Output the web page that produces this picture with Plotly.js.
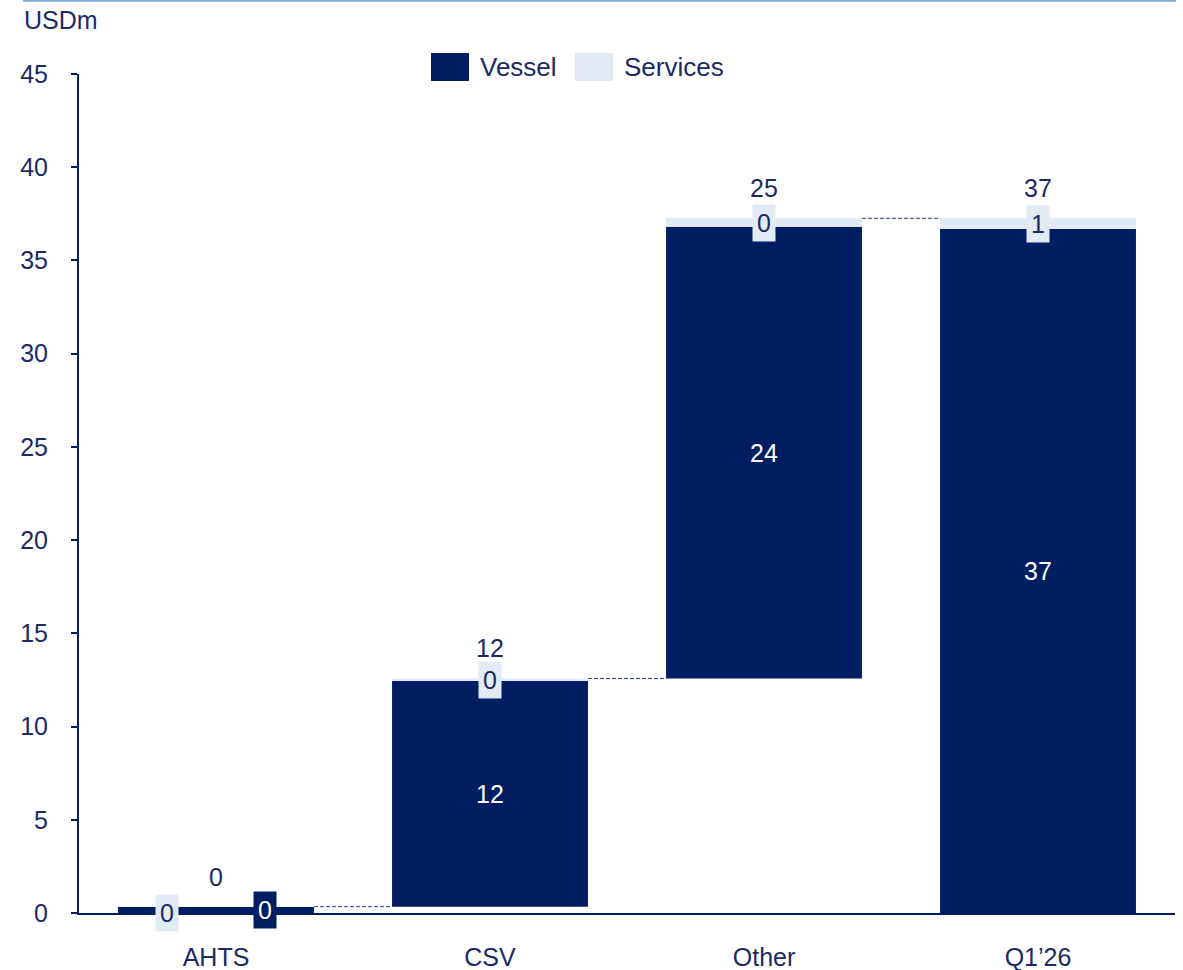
<!DOCTYPE html>
<html>
<head>
<meta charset="utf-8">
<script src="https://cdn.plot.ly/plotly-3.0.1.min.js"></script>
<style>html,body{margin:0;padding:0;background:#fff;}#chart{width:1183px;height:970px;}</style>
</head>
<body>
<div id="chart"></div>
<script>
// ---- data ----
const categories = ['AHTS', 'CSV', 'Other', 'Q1\u201926'];
const vessel = [0.32, 12.1, 24.23, 36.69];
const services = [0.02, 0.14, 0.45, 0.57];
const isTotal = [false, false, false, true];
const vesselLabels = ['0', '12', '24', '37'];
const servicesLabels = ['0', '0', '0', '1'];
const totalLabels = ['0', '12', '25', '37'];
const yTicks = [0, 5, 10, 15, 20, 25, 30, 35, 40, 45];

// ---- style ----
const NAVY = '#001e61';
const LIGHT = '#e2eaf3';
const TXT = '#1b2a66';
const FONT = 'Liberation Sans, Arial, sans-serif';
const FS = 25;
const BARW = 0.715;

// waterfall bases
const vBase = [], sBase = [], tops = [];
let cum = 0;
for (let i = 0; i < categories.length; i++) {
  const b = isTotal[i] ? 0 : cum;
  vBase.push(b);
  sBase.push(b + vessel[i]);
  tops.push(b + vessel[i] + services[i]);
  if (!isTotal[i]) cum = b + vessel[i] + services[i];
}

const traces = [
  {type: 'bar', x: categories, y: vessel, base: vBase, width: BARW,
   marker: {color: NAVY, line: {width: 0}}, name: 'Vessel', hoverinfo: 'none'},
  {type: 'bar', x: categories, y: services, base: sBase, width: BARW,
   marker: {color: LIGHT, line: {width: 0}}, name: 'Services', hoverinfo: 'none'}
];

const PXU = 839 / 45; // approx px per unit for small-bar detection
const annotations = [];
const shapes = [];
for (let i = 0; i < categories.length; i++) {
  const small = (vessel[i] + services[i]) * PXU < 20;
  // vessel label
  annotations.push({
    x: categories[i], y: vBase[i] + vessel[i] / 2, xref: 'x', yref: 'y',
    text: vesselLabels[i], showarrow: false,
    font: {family: FONT, size: FS, color: '#ffffff'},
    bgcolor: small ? NAVY : 'rgba(0,0,0,0)', borderpad: 4,
    xshift: small ? 49 : 0
  });
  // services label
  annotations.push({
    x: categories[i], y: sBase[i] + services[i] / 2, xref: 'x', yref: 'y',
    text: servicesLabels[i], showarrow: false,
    font: {family: FONT, size: FS, color: TXT},
    bgcolor: LIGHT, borderpad: 4,
    xshift: small ? -49 : 0, yshift: small ? -6 : 0
  });
  // total label
  annotations.push({
    x: categories[i], y: tops[i], xref: 'x', yref: 'y',
    text: totalLabels[i], showarrow: false, yanchor: 'middle',
    font: {family: FONT, size: FS, color: TXT}, yshift: 30
  });
  // connector
  if (i < categories.length - 1) {
    shapes.push({
      type: 'line', xref: 'x', yref: 'y',
      x0: i + BARW / 2, x1: i + 1 - BARW / 2, y0: tops[i], y1: tops[i],
      line: {color: '#2b3b7c', width: 1, dash: '4px,2px'}
    });
  }
}

// paper-coordinate helpers (plot area 79..1175 x, 74..913 y)
const px = v => (v - 79) / 1096;
const py = v => (913 - v) / 839;

// top rule
shapes.push({type: 'line', xref: 'paper', yref: 'paper', x0: px(23), x1: px(1176),
  y0: py(0.8), y1: py(0.8), line: {color: '#7eaad4', width: 2}});
// legend swatches
shapes.push({type: 'rect', xref: 'paper', yref: 'paper', x0: px(431), x1: px(469),
  y0: py(81), y1: py(53), fillcolor: NAVY, line: {width: 0}});
shapes.push({type: 'rect', xref: 'paper', yref: 'paper', x0: px(575), x1: px(613),
  y0: py(81), y1: py(53), fillcolor: LIGHT, line: {width: 0}});
annotations.push({xref: 'paper', yref: 'paper', x: px(478), y: py(67), xanchor: 'left',
  yanchor: 'middle', text: 'Vessel', showarrow: false, font: {family: FONT, size: 26, color: TXT}});
annotations.push({xref: 'paper', yref: 'paper', x: px(622), y: py(67), xanchor: 'left',
  yanchor: 'middle', text: 'Services', showarrow: false, font: {family: FONT, size: 26, color: TXT}});
// unit label
annotations.push({xref: 'paper', yref: 'paper', x: px(22), y: py(20), xanchor: 'left',
  yanchor: 'middle', text: 'USDm', showarrow: false, font: {family: FONT, size: FS, color: TXT}});

const layout = {
  width: 1183, height: 970,
  margin: {l: 79, r: 8, t: 74, b: 57},
  paper_bgcolor: '#ffffff', plot_bgcolor: '#ffffff',
  showlegend: false, barmode: 'overlay',
  font: {family: FONT, size: FS, color: TXT},
  xaxis: {type: 'category', range: [-0.5, 3.5], showgrid: false, zeroline: false,
    showline: true, linecolor: NAVY, linewidth: 2, ticks: '', ticklabelstandoff: 21,
    tickfont: {family: FONT, size: FS, color: TXT}, fixedrange: true},
  yaxis: {range: [0, 45], tickvals: yTicks, ticktext: yTicks.map(String), showgrid: false,
    zeroline: false, showline: true, linecolor: NAVY, linewidth: 2, ticks: 'outside',
    ticklen: 6, tickwidth: 2, tickcolor: NAVY, ticklabelstandoff: 18,
    tickfont: {family: FONT, size: FS, color: TXT}, fixedrange: true},
  shapes: shapes, annotations: annotations
};

Plotly.newPlot('chart', traces, layout, {displayModeBar: false, staticPlot: true});
</script>
</body>
</html>
